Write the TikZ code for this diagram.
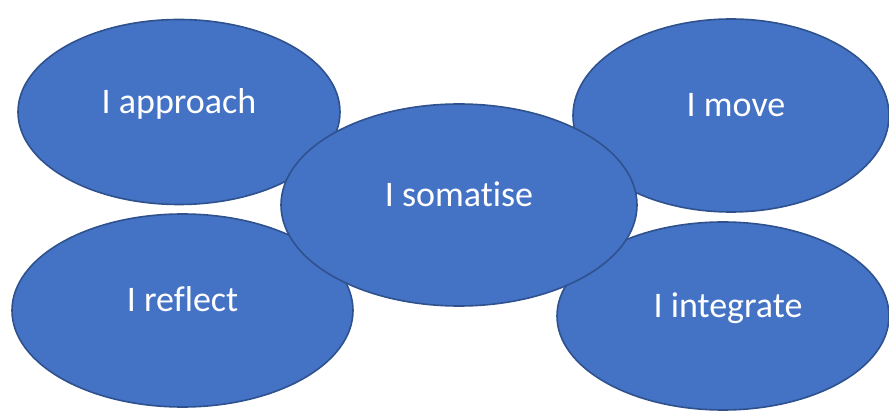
\documentclass[tikz,border=0pt]{standalone}
\usepackage{fontspec}
\setmainfont{Carlito}[Ligatures={NoCommon}]
\usetikzlibrary{shapes.geometric}
\definecolor{blobfill}{HTML}{4472C4}
\definecolor{blobline}{HTML}{2F528F}
\tikzset{
  blob/.style={ellipse, draw=blobline, fill=blobfill, line width=1.6pt, inner sep=0pt},
  blobtext/.style={anchor=base, text=white, font=\fontsize{36}{40}\selectfont, inner sep=0pt}
}
\begin{document}
\begin{tikzpicture}[x=1pt,y=-1pt]
\useasboundingbox (0,0) rectangle (889,411);
\node[blob, minimum width=322pt, minimum height=185pt] (approach) at (179,112) {};
\node[blobtext, yshift=-1.5pt] (tapproach) at (approach.center) {I approach};
\node[blob, minimum width=316pt, minimum height=193pt] (move) at (731,115.5) {};
\node[blobtext, yshift=-1.5pt, xshift=5pt] (tmove) at (move.center) {I move};
\node[blob, minimum width=341pt, minimum height=193pt] (reflect) at (182.5,310.5) {};
\node[blobtext, yshift=-1.5pt] (treflect) at (reflect.center) {I reflect};
\node[blob, minimum width=332pt, minimum height=188pt] (integrate) at (723,316) {};
\node[blobtext, yshift=-1.5pt, xshift=5pt] (tintegrate) at (integrate.center) {I integrate};
\node[blob, minimum width=356pt, minimum height=202pt] (somatise) at (459,205) {};
\node[blobtext, yshift=-1.5pt] (tsomatise) at (somatise.center) {I somatise};
\end{tikzpicture}
\end{document}
